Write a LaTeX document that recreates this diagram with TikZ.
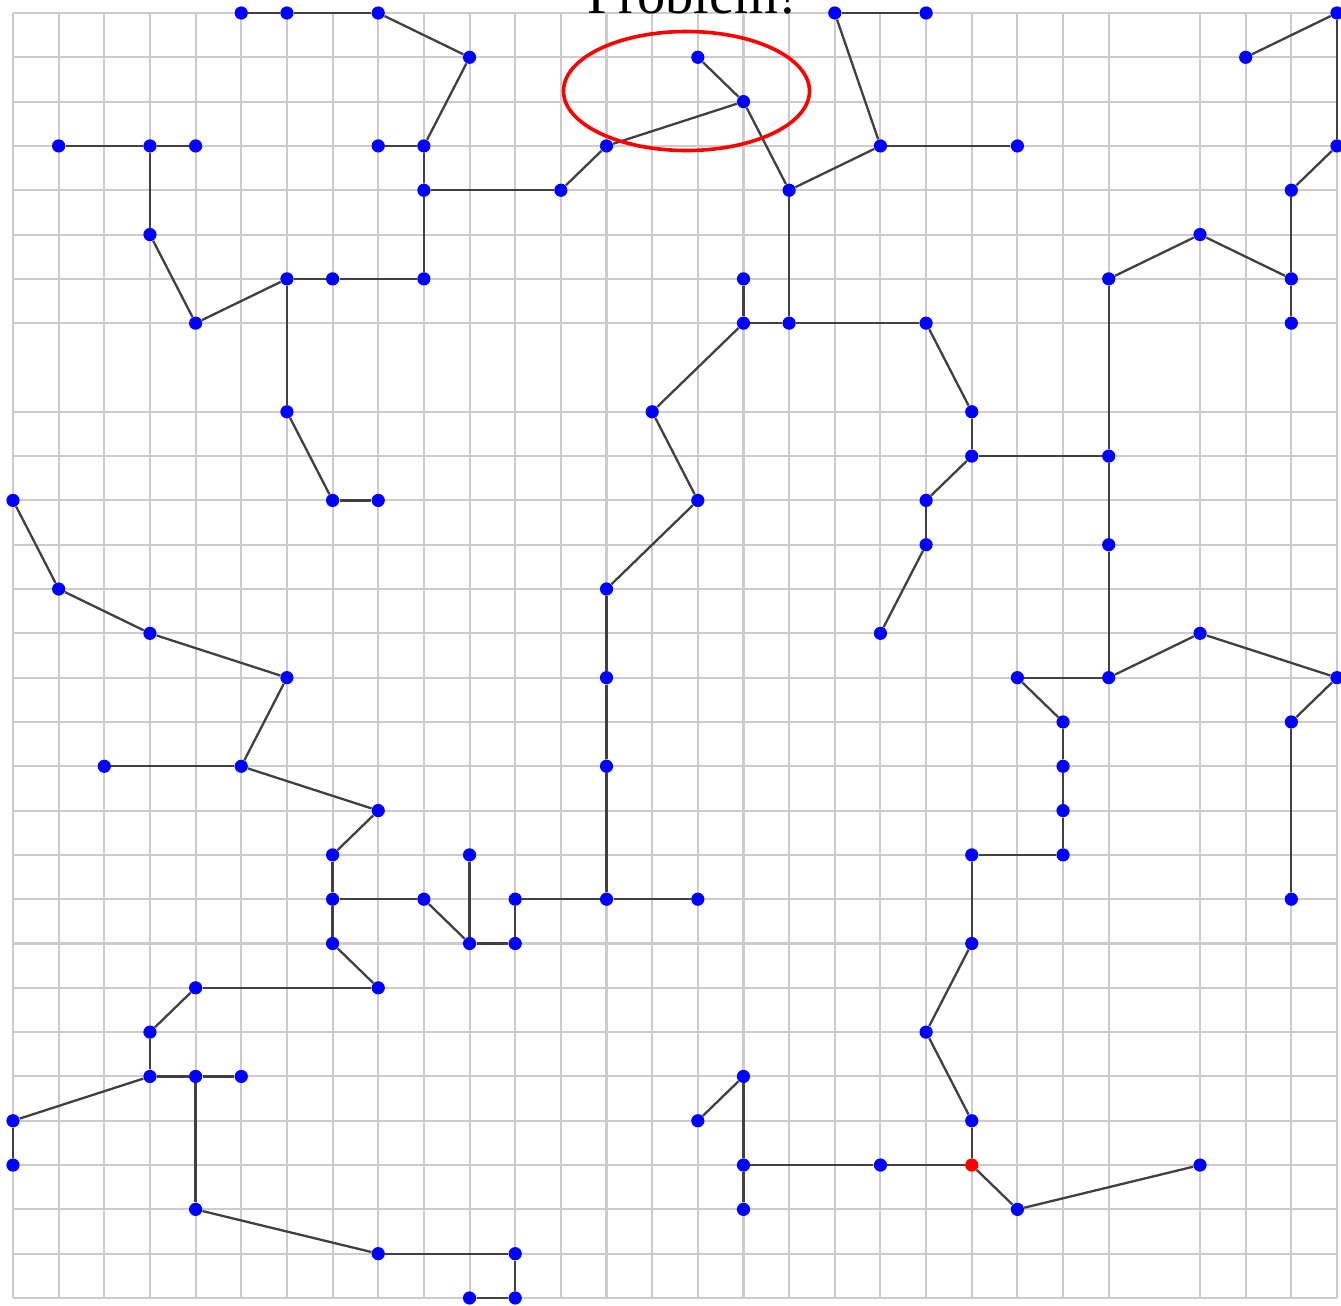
\documentclass[tikz,border=0pt]{standalone}
\usepackage{fontspec}
\setmainfont{Liberation Serif}
\usetikzlibrary{shapes.geometric}
\tikzset{
  gridline/.style={draw=black!20, line width=1.05pt},
  edge/.style={draw=black!75, line width=1.15pt},
  dot/.style={circle, fill=blue, inner sep=0pt, minimum size=6.6pt},
  reddot/.style={circle, fill=red, inner sep=0pt, minimum size=6.6pt},
  ring/.style={draw=red, line width=1.8pt, ellipse, inner sep=0pt, minimum width=123pt, minimum height=59.5pt},
}
\begin{document}
\begin{tikzpicture}[x=0.5pt,y=0.5pt]
\useasboundingbox (0,0) rectangle (1341,-1306);
% grid
\foreach \i in {0,...,24,26,27,28,29}
  \draw[gridline] ({13+45.655*\i},-13) -- ({13+45.655*\i},-1298);
\foreach \j in {0,...,7,9,10,...,29}
  \draw[gridline] (13,{-13-44.31*\j}) -- (1337,{-13-44.31*\j});
% nodes
\foreach \i/\j in {5/0,6/0,8/0,18/0,20/0,29/0,
  10/1,15/1,27/1,
  16/2,
  1/3,3/3,4/3,8/3,9/3,13/3,19/3,22/3,29/3,
  9/4,12/4,17/4,28/4,
  3/5,26/5,
  6/6,7/6,9/6,16/6,24/6,28/6,
  4/7,16/7,17/7,20/7,28/7,
  6/9,14/9,21/9,
  21/10,24/10,
  0/11,7/11,8/11,15/11,20/11,
  20/12,24/12,
  1/13,13/13,
  3/14,19/14,26/14,
  6/15,13/15,22/15,24/15,29/15,
  23/16,28/16,
  2/17,5/17,13/17,23/17,
  8/18,23/18,
  7/19,10/19,21/19,23/19,
  7/20,9/20,11/20,13/20,15/20,28/20,
  7/21,10/21,11/21,21/21,
  4/22,8/22,
  3/23,20/23,
  3/24,4/24,5/24,16/24,
  0/25,15/25,21/25,
  0/26,16/26,19/26,26/26,
  4/27,16/27,22/27,
  8/28,11/28,
  10/29,11/29}
  \node[dot] (n\i-\j) at ({13+45.655*\i},{-13-44.31*\j}) {};
\node[reddot] (n21-26) at ({13+45.655*21},{-13-44.31*26}) {};
% edges
\foreach \a/\b/\c/\d in {5/0/6/0, 6/0/8/0, 8/0/10/1, 10/1/9/3, 18/0/20/0, 18/0/19/3, 29/0/27/1, 29/0/29/3,
  15/1/16/2, 16/2/13/3, 16/2/17/4,
  1/3/3/3, 3/3/4/3, 3/3/3/5, 8/3/9/3, 9/3/9/4, 9/4/12/4, 12/4/13/3, 9/4/9/6, 19/3/22/3, 19/3/17/4, 29/3/28/4,
  17/4/17/7, 28/4/28/6,
  3/5/4/7, 26/5/24/6, 26/5/28/6,
  4/7/6/6, 6/6/7/6, 7/6/9/6, 6/6/6/9, 16/6/16/7, 28/6/28/7, 24/6/24/10,
  16/7/17/7, 17/7/20/7, 16/7/14/9, 20/7/21/9,
  6/9/7/11, 14/9/15/11, 21/9/21/10,
  21/10/24/10, 21/10/20/11, 24/10/24/12,
  7/11/8/11, 0/11/1/13, 15/11/13/13, 20/11/20/12,
  20/12/19/14, 24/12/24/15,
  1/13/3/14, 13/13/13/15,
  3/14/6/15, 26/14/24/15, 26/14/29/15,
  6/15/5/17, 13/15/13/17, 22/15/24/15, 22/15/23/16, 29/15/28/16,
  23/16/23/17, 28/16/28/20,
  2/17/5/17, 5/17/8/18, 13/17/13/20, 23/17/23/18,
  8/18/7/19, 23/18/23/19,
  7/19/7/20, 10/19/10/21, 21/19/23/19, 21/19/21/21,
  7/20/9/20, 9/20/10/21, 11/20/13/20, 13/20/15/20, 11/20/11/21, 7/20/7/21,
  10/21/11/21, 7/21/8/22, 21/21/20/23,
  4/22/8/22, 4/22/3/23,
  3/23/3/24, 20/23/21/25,
  3/24/4/24, 4/24/5/24, 3/24/0/25, 4/24/4/27, 16/24/15/25, 16/24/16/26,
  0/25/0/26, 21/25/21/26,
  16/26/19/26, 19/26/21/26, 16/26/16/27, 21/26/22/27, 22/27/26/26,
  4/27/8/28, 8/28/11/28, 11/28/11/29, 10/29/11/29}
  \draw[edge] (n\a-\b) -- (n\c-\d);
% highlight and title
\node[ring] (mark) at (686.5,-91) {};
\node[anchor=base, inner sep=0pt, font=\fontsize{28.2}{30}\selectfont] (title) at (692,-13) {Problem!};
\end{tikzpicture}
\end{document}
